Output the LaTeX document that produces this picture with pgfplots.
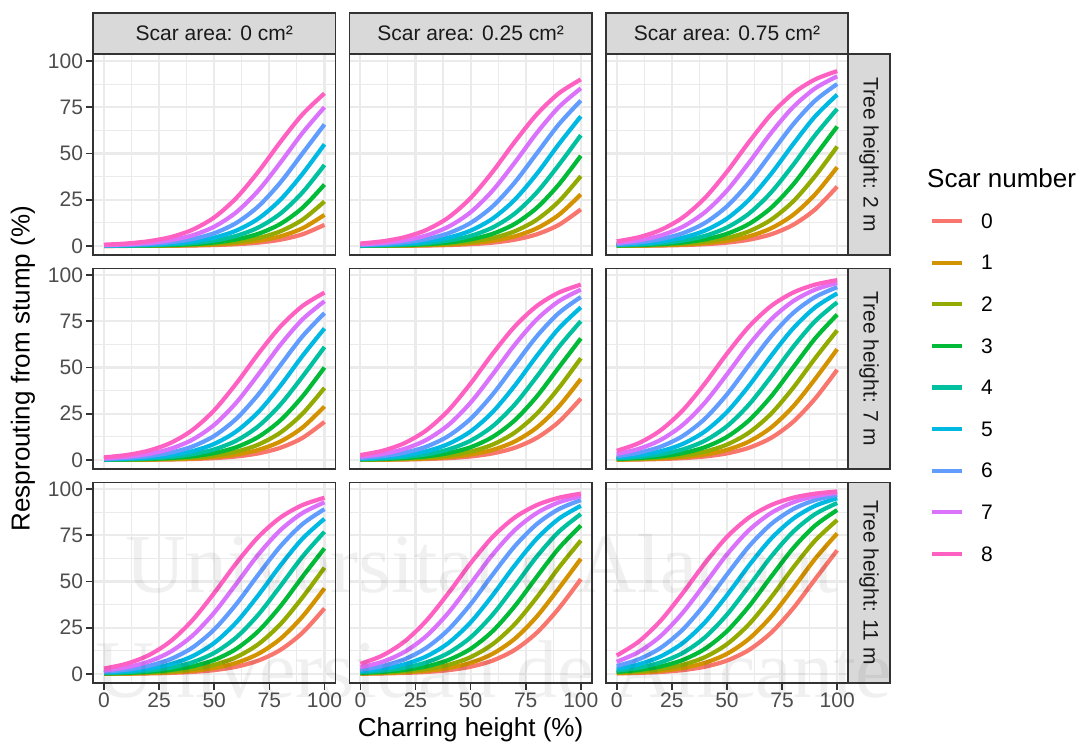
\documentclass[border=0pt]{standalone}
\usepackage{fontspec}
\setmainfont{Liberation Sans}
\newfontfamily\wmfont{Liberation Serif}
\usepackage{pgfplots}
\pgfplotsset{compat=1.18}
\definecolor{gr10}{HTML}{1A1A1A}
\definecolor{gr20}{HTML}{333333}
\definecolor{gr30}{HTML}{4D4D4D}
\definecolor{gr85}{HTML}{D9D9D9}
\definecolor{gr92}{HTML}{EBEBEB}
\definecolor{h0}{HTML}{F8766D}
\definecolor{h1}{HTML}{D39200}
\definecolor{h2}{HTML}{93AA00}
\definecolor{h3}{HTML}{00BA38}
\definecolor{h4}{HTML}{00C19F}
\definecolor{h5}{HTML}{00B9E3}
\definecolor{h6}{HTML}{619CFF}
\definecolor{h7}{HTML}{DB72FB}
\definecolor{h8}{HTML}{FF61C3}
\pgfplotsset{
  panel/.style={scale only axis, width=242.5pt, height=200.8pt,
    xmin=-5, xmax=105, ymin=-4.93, ymax=103.6,
    xtick={0,25,50,75,100}, ytick={0,25,50,75,100},
    minor xtick={12.5,37.5,62.5,87.5}, minor ytick={12.5,37.5,62.5,87.5},
    xtick pos=bottom, ytick pos=left,
    grid=both,
    major grid style={line width=2.2pt, draw=gr92},
    minor grid style={line width=1.1pt, draw=gr92},
    axis line style={line width=1.6pt, draw=gr20},
    tick align=outside, major tick length=6.5pt, minor tick length=0pt,
    every tick/.style={line width=1.6pt, draw=gr20},
    ticklabel style={font=\fontsize{21}{21}\selectfont, text=gr30},
    /pgf/number format/assume math mode=true,
    xticklabels={}, yticklabels={},
    xtick style={draw=none}, ytick style={draw=none}},
  leftcol/.style={yticklabels={0,25,50,75,100}, ytick style={draw=gr20}},
  bottomrow/.style={xticklabels={0,25,50,75,100}, xtick style={draw=gr20}},
  s0/.style={h0, line width=4.2pt, smooth, no markers},
  s1/.style={h1, line width=4.2pt, smooth, no markers},
  s2/.style={h2, line width=4.2pt, smooth, no markers},
  s3/.style={h3, line width=4.2pt, smooth, no markers},
  s4/.style={h4, line width=4.2pt, smooth, no markers},
  s5/.style={h5, line width=4.2pt, smooth, no markers},
  s6/.style={h6, line width=4.2pt, smooth, no markers},
  s7/.style={h7, line width=4.2pt, smooth, no markers},
  s8/.style={h8, line width=4.2pt, smooth, no markers},
}
\begin{document}
\begin{tikzpicture}
\path[use as bounding box] (0pt,0pt) rectangle (1087pt,-746pt);
% ---------- Row 1: tree height 2 m ----------
\begin{axis}[panel, leftcol, at={(93pt,-54.3pt)}, anchor=north west]
\addplot[s0] coordinates {(0,0.02)(10,0.04)(20,0.07)(30,0.14)(40,0.26)(50,0.50)(60,0.95)(70,1.80)(80,3.39)(90,6.30)(100,11.41)};
\addplot[s1] coordinates {(0,0.03)(10,0.06)(20,0.11)(30,0.21)(40,0.41)(50,0.78)(60,1.48)(70,2.79)(80,5.22)(90,9.54)(100,16.80)};
\addplot[s2] coordinates {(0,0.05)(10,0.09)(20,0.18)(30,0.33)(40,0.64)(50,1.21)(60,2.30)(70,4.31)(80,7.94)(90,14.19)(100,24.05)};
\addplot[s3] coordinates {(0,0.08)(10,0.14)(20,0.27)(30,0.52)(40,1.00)(50,1.89)(60,3.56)(70,6.60)(80,11.92)(90,20.59)(100,33.18)};
\addplot[s4] coordinates {(0,0.12)(10,0.22)(20,0.43)(30,0.82)(40,1.55)(50,2.93)(60,5.47)(70,9.98)(80,17.51)(90,28.91)(100,43.78)};
\addplot[s5] coordinates {(0,0.18)(10,0.35)(20,0.67)(30,1.27)(40,2.41)(50,4.52)(60,8.32)(70,14.80)(80,24.97)(90,38.94)(100,54.98)};
\addplot[s6] coordinates {(0,0.29)(10,0.55)(20,1.05)(30,1.98)(40,3.73)(50,6.91)(60,12.46)(70,21.42)(80,34.30)(90,50.00)(100,65.70)};
\addplot[s7] coordinates {(0,0.45)(10,0.86)(20,1.63)(30,3.08)(40,5.73)(50,10.43)(60,18.24)(70,29.94)(80,45.02)(90,61.06)(100,75.03)};
\addplot[s8] coordinates {(0,0.70)(10,1.34)(20,2.53)(30,4.74)(40,8.71)(50,15.45)(60,25.92)(70,40.13)(80,56.22)(90,71.09)(100,82.49)};
\end{axis}
\begin{axis}[panel, at={(349.35pt,-54.3pt)}, anchor=north west]
\addplot[s0] coordinates {(0,0.04)(10,0.07)(20,0.14)(30,0.26)(40,0.50)(50,0.95)(60,1.80)(70,3.39)(80,6.30)(90,11.41)(100,19.78)};
\addplot[s1] coordinates {(0,0.06)(10,0.11)(20,0.21)(30,0.41)(40,0.78)(50,1.48)(60,2.79)(70,5.22)(80,9.54)(90,16.80)(100,27.89)};
\addplot[s2] coordinates {(0,0.09)(10,0.18)(20,0.33)(30,0.64)(40,1.21)(50,2.30)(60,4.31)(70,7.94)(80,14.19)(90,24.05)(100,37.75)};
\addplot[s3] coordinates {(0,0.14)(10,0.27)(20,0.52)(30,1.00)(40,1.89)(50,3.56)(60,6.60)(70,11.92)(80,20.59)(90,33.18)(100,48.75)};
\addplot[s4] coordinates {(0,0.22)(10,0.43)(20,0.82)(30,1.55)(40,2.93)(50,5.47)(60,9.98)(70,17.51)(80,28.91)(90,43.78)(100,59.87)};
\addplot[s5] coordinates {(0,0.35)(10,0.67)(20,1.27)(30,2.41)(40,4.52)(50,8.32)(60,14.80)(70,24.97)(80,38.94)(90,54.98)(100,70.06)};
\addplot[s6] coordinates {(0,0.55)(10,1.05)(20,1.98)(30,3.73)(40,6.91)(50,12.46)(60,21.42)(70,34.30)(80,50.00)(90,65.70)(100,78.58)};
\addplot[s7] coordinates {(0,0.86)(10,1.63)(20,3.08)(30,5.73)(40,10.43)(50,18.24)(60,29.94)(70,45.02)(80,61.06)(90,75.03)(100,85.20)};
\addplot[s8] coordinates {(0,1.34)(10,2.53)(20,4.74)(30,8.71)(40,15.45)(50,25.92)(60,40.13)(70,56.22)(80,71.09)(90,82.49)(100,90.03)};
\end{axis}
\begin{axis}[panel, at={(605.7pt,-54.3pt)}, anchor=north west]
\addplot[s0] coordinates {(0,0.07)(10,0.14)(20,0.26)(30,0.50)(40,0.95)(50,1.80)(60,3.39)(70,6.30)(80,11.41)(90,19.78)(100,32.08)};
\addplot[s1] coordinates {(0,0.11)(10,0.21)(20,0.41)(30,0.78)(40,1.48)(50,2.79)(60,5.22)(70,9.54)(80,16.80)(90,27.89)(100,42.56)};
\addplot[s2] coordinates {(0,0.18)(10,0.33)(20,0.64)(30,1.21)(40,2.30)(50,4.31)(60,7.94)(70,14.19)(80,24.05)(90,37.75)(100,53.74)};
\addplot[s3] coordinates {(0,0.27)(10,0.52)(20,1.00)(30,1.89)(40,3.56)(50,6.60)(60,11.92)(70,20.59)(80,33.18)(90,48.75)(100,64.57)};
\addplot[s4] coordinates {(0,0.43)(10,0.82)(20,1.55)(30,2.93)(40,5.47)(50,9.98)(60,17.51)(70,28.91)(80,43.78)(90,59.87)(100,74.08)};
\addplot[s5] coordinates {(0,0.67)(10,1.27)(20,2.41)(30,4.52)(40,8.32)(50,14.80)(60,24.97)(70,38.94)(80,54.98)(90,70.06)(100,81.76)};
\addplot[s6] coordinates {(0,1.05)(10,1.98)(20,3.73)(30,6.91)(40,12.46)(50,21.42)(60,34.30)(70,50.00)(80,65.70)(90,78.58)(100,87.54)};
\addplot[s7] coordinates {(0,1.63)(10,3.08)(20,5.73)(30,10.43)(40,18.24)(50,29.94)(60,45.02)(70,61.06)(80,75.03)(90,85.20)(100,91.68)};
\addplot[s8] coordinates {(0,2.53)(10,4.74)(20,8.71)(30,15.45)(40,25.92)(50,40.13)(60,56.22)(70,71.09)(80,82.49)(90,90.03)(100,94.53)};
\end{axis}
% ---------- Row 2: tree height 7 m ----------
\begin{axis}[panel, leftcol, at={(93pt,-268.3pt)}, anchor=north west]
\addplot[s0] coordinates {(0,0.04)(10,0.08)(20,0.14)(30,0.27)(40,0.52)(50,1.00)(60,1.89)(70,3.56)(80,6.60)(90,11.92)(100,20.59)};
\addplot[s1] coordinates {(0,0.06)(10,0.12)(20,0.22)(30,0.43)(40,0.82)(50,1.55)(60,2.93)(70,5.47)(80,9.98)(90,17.51)(100,28.91)};
\addplot[s2] coordinates {(0,0.10)(10,0.18)(20,0.35)(30,0.67)(40,1.27)(50,2.41)(60,4.52)(70,8.32)(80,14.80)(90,24.97)(100,38.94)};
\addplot[s3] coordinates {(0,0.15)(10,0.29)(20,0.55)(30,1.05)(40,1.98)(50,3.73)(60,6.91)(70,12.46)(80,21.42)(90,34.30)(100,50.00)};
\addplot[s4] coordinates {(0,0.24)(10,0.45)(20,0.86)(30,1.63)(40,3.08)(50,5.73)(60,10.43)(70,18.24)(80,29.94)(90,45.02)(100,61.06)};
\addplot[s5] coordinates {(0,0.37)(10,0.70)(20,1.34)(30,2.53)(40,4.74)(50,8.71)(60,15.45)(70,25.92)(80,40.13)(90,56.22)(100,71.09)};
\addplot[s6] coordinates {(0,0.58)(10,1.10)(20,2.08)(30,3.92)(40,7.24)(50,13.01)(60,22.27)(70,35.43)(80,51.25)(90,66.82)(100,79.41)};
\addplot[s7] coordinates {(0,0.90)(10,1.71)(20,3.23)(30,6.01)(40,10.91)(50,19.00)(60,31.00)(70,46.26)(80,62.25)(90,75.95)(100,85.81)};
\addplot[s8] coordinates {(0,1.41)(10,2.66)(20,4.97)(30,9.11)(40,16.11)(50,26.89)(60,41.34)(70,57.44)(80,72.11)(90,83.20)(100,90.47)};
\end{axis}
\begin{axis}[panel, at={(349.35pt,-268.3pt)}, anchor=north west]
\addplot[s0] coordinates {(0,0.08)(10,0.14)(20,0.27)(30,0.52)(40,1.00)(50,1.89)(60,3.56)(70,6.60)(80,11.92)(90,20.59)(100,33.18)};
\addplot[s1] coordinates {(0,0.12)(10,0.22)(20,0.43)(30,0.82)(40,1.55)(50,2.93)(60,5.47)(70,9.98)(80,17.51)(90,28.91)(100,43.78)};
\addplot[s2] coordinates {(0,0.18)(10,0.35)(20,0.67)(30,1.27)(40,2.41)(50,4.52)(60,8.32)(70,14.80)(80,24.97)(90,38.94)(100,54.98)};
\addplot[s3] coordinates {(0,0.29)(10,0.55)(20,1.05)(30,1.98)(40,3.73)(50,6.91)(60,12.46)(70,21.42)(80,34.30)(90,50.00)(100,65.70)};
\addplot[s4] coordinates {(0,0.45)(10,0.86)(20,1.63)(30,3.08)(40,5.73)(50,10.43)(60,18.24)(70,29.94)(80,45.02)(90,61.06)(100,75.03)};
\addplot[s5] coordinates {(0,0.70)(10,1.34)(20,2.53)(30,4.74)(40,8.71)(50,15.45)(60,25.92)(70,40.13)(80,56.22)(90,71.09)(100,82.49)};
\addplot[s6] coordinates {(0,1.10)(10,2.08)(20,3.92)(30,7.24)(40,13.01)(50,22.27)(60,35.43)(70,51.25)(80,66.82)(90,79.41)(100,88.08)};
\addplot[s7] coordinates {(0,1.71)(10,3.23)(20,6.01)(30,10.91)(40,19.00)(50,31.00)(60,46.26)(70,62.25)(80,75.95)(90,85.81)(100,92.06)};
\addplot[s8] coordinates {(0,2.66)(10,4.97)(20,9.11)(30,16.11)(40,26.89)(50,41.34)(60,57.44)(70,72.11)(80,83.20)(90,90.47)(100,94.79)};
\end{axis}
\begin{axis}[panel, at={(605.7pt,-268.3pt)}, anchor=north west]
\addplot[s0] coordinates {(0,0.14)(10,0.27)(20,0.52)(30,1.00)(40,1.89)(50,3.56)(60,6.60)(70,11.92)(80,20.59)(90,33.18)(100,48.75)};
\addplot[s1] coordinates {(0,0.22)(10,0.43)(20,0.82)(30,1.55)(40,2.93)(50,5.47)(60,9.98)(70,17.51)(80,28.91)(90,43.78)(100,59.87)};
\addplot[s2] coordinates {(0,0.35)(10,0.67)(20,1.27)(30,2.41)(40,4.52)(50,8.32)(60,14.80)(70,24.97)(80,38.94)(90,54.98)(100,70.06)};
\addplot[s3] coordinates {(0,0.55)(10,1.05)(20,1.98)(30,3.73)(40,6.91)(50,12.46)(60,21.42)(70,34.30)(80,50.00)(90,65.70)(100,78.58)};
\addplot[s4] coordinates {(0,0.86)(10,1.63)(20,3.08)(30,5.73)(40,10.43)(50,18.24)(60,29.94)(70,45.02)(80,61.06)(90,75.03)(100,85.20)};
\addplot[s5] coordinates {(0,1.34)(10,2.53)(20,4.74)(30,8.71)(40,15.45)(50,25.92)(60,40.13)(70,56.22)(80,71.09)(90,82.49)(100,90.03)};
\addplot[s6] coordinates {(0,2.08)(10,3.92)(20,7.24)(30,13.01)(40,22.27)(50,35.43)(60,51.25)(70,66.82)(80,79.41)(90,88.08)(100,93.40)};
\addplot[s7] coordinates {(0,3.23)(10,6.01)(20,10.91)(30,19.00)(40,31.00)(50,46.26)(60,62.25)(70,75.95)(80,85.81)(90,92.06)(100,95.69)};
\addplot[s8] coordinates {(0,4.97)(10,9.11)(20,16.11)(30,26.89)(40,41.34)(50,57.44)(60,72.11)(70,83.20)(80,90.47)(90,94.79)(100,97.21)};
\end{axis}
% ---------- Row 3: tree height 11 m ----------
\begin{axis}[panel, leftcol, bottomrow, at={(93pt,-482.3pt)}, anchor=north west]
\addplot[s0] coordinates {(0,0.08)(10,0.16)(20,0.30)(30,0.58)(40,1.10)(50,2.08)(60,3.92)(70,7.24)(80,13.01)(90,22.27)(100,35.43)};
\addplot[s1] coordinates {(0,0.13)(10,0.25)(20,0.47)(30,0.90)(40,1.71)(50,3.23)(60,6.01)(70,10.91)(80,19.00)(90,31.00)(100,46.26)};
\addplot[s2] coordinates {(0,0.20)(10,0.39)(20,0.74)(30,1.41)(40,2.66)(50,4.97)(60,9.11)(70,16.11)(80,26.89)(90,41.34)(100,57.44)};
\addplot[s3] coordinates {(0,0.32)(10,0.61)(20,1.15)(30,2.19)(40,4.11)(50,7.59)(60,13.59)(70,23.15)(80,36.59)(90,52.50)(100,67.92)};
\addplot[s4] coordinates {(0,0.50)(10,0.95)(20,1.80)(30,3.39)(40,6.30)(50,11.41)(60,19.78)(70,32.08)(80,47.50)(90,63.41)(100,76.85)};
\addplot[s5] coordinates {(0,0.78)(10,1.48)(20,2.79)(30,5.22)(40,9.54)(50,16.80)(60,27.89)(70,42.56)(80,58.66)(90,73.11)(100,83.89)};
\addplot[s6] coordinates {(0,1.21)(10,2.30)(20,4.31)(30,7.94)(40,14.19)(50,24.05)(60,37.75)(70,53.74)(80,69.00)(90,81.00)(100,89.09)};
\addplot[s7] coordinates {(0,1.89)(10,3.56)(20,6.60)(30,11.92)(40,20.59)(50,33.18)(60,48.75)(70,64.57)(80,77.73)(90,86.99)(100,92.76)};
\addplot[s8] coordinates {(0,2.93)(10,5.47)(20,9.98)(30,17.51)(40,28.91)(50,43.78)(60,59.87)(70,74.08)(80,84.55)(90,91.29)(100,95.26)};
\end{axis}
\begin{axis}[panel, bottomrow, at={(349.35pt,-482.3pt)}, anchor=north west]
\addplot[s0] coordinates {(0,0.16)(10,0.30)(20,0.58)(30,1.10)(40,2.08)(50,3.92)(60,7.24)(70,13.01)(80,22.27)(90,35.43)(100,51.25)};
\addplot[s1] coordinates {(0,0.25)(10,0.47)(20,0.90)(30,1.71)(40,3.23)(50,6.01)(60,10.91)(70,19.00)(80,31.00)(90,46.26)(100,62.25)};
\addplot[s2] coordinates {(0,0.39)(10,0.74)(20,1.41)(30,2.66)(40,4.97)(50,9.11)(60,16.11)(70,26.89)(80,41.34)(90,57.44)(100,72.11)};
\addplot[s3] coordinates {(0,0.61)(10,1.15)(20,2.19)(30,4.11)(40,7.59)(50,13.59)(60,23.15)(70,36.59)(80,52.50)(90,67.92)(100,80.22)};
\addplot[s4] coordinates {(0,0.95)(10,1.80)(20,3.39)(30,6.30)(40,11.41)(50,19.78)(60,32.08)(70,47.50)(80,63.41)(90,76.85)(100,86.41)};
\addplot[s5] coordinates {(0,1.48)(10,2.79)(20,5.22)(30,9.54)(40,16.80)(50,27.89)(60,42.56)(70,58.66)(80,73.11)(90,83.89)(100,90.89)};
\addplot[s6] coordinates {(0,2.30)(10,4.31)(20,7.94)(30,14.19)(40,24.05)(50,37.75)(60,53.74)(70,69.00)(80,81.00)(90,89.09)(100,93.99)};
\addplot[s7] coordinates {(0,3.56)(10,6.60)(20,11.92)(30,20.59)(40,33.18)(50,48.75)(60,64.57)(70,77.73)(80,86.99)(90,92.76)(100,96.08)};
\addplot[s8] coordinates {(0,5.47)(10,9.98)(20,17.51)(30,28.91)(40,43.78)(50,59.87)(60,74.08)(70,84.55)(80,91.29)(90,95.26)(100,97.47)};
\end{axis}
\begin{axis}[panel, bottomrow, at={(605.7pt,-482.3pt)}, anchor=north west]
\addplot[s0] coordinates {(0,0.30)(10,0.58)(20,1.10)(30,2.08)(40,3.92)(50,7.24)(60,13.01)(70,22.27)(80,35.43)(90,51.25)(100,66.82)};
\addplot[s1] coordinates {(0,0.47)(10,0.90)(20,1.71)(30,3.23)(40,6.01)(50,10.91)(60,19.00)(70,31.00)(80,46.26)(90,62.25)(100,75.95)};
\addplot[s2] coordinates {(0,0.74)(10,1.41)(20,2.66)(30,4.97)(40,9.11)(50,16.11)(60,26.89)(70,41.34)(80,57.44)(90,72.11)(100,83.20)};
\addplot[s3] coordinates {(0,1.15)(10,2.19)(20,4.11)(30,7.59)(40,13.59)(50,23.15)(60,36.59)(70,52.50)(80,67.92)(90,80.22)(100,88.59)};
\addplot[s4] coordinates {(0,1.80)(10,3.39)(20,6.30)(30,11.41)(40,19.78)(50,32.08)(60,47.50)(70,63.41)(80,76.85)(90,86.41)(100,92.41)};
\addplot[s5] coordinates {(0,2.79)(10,5.22)(20,9.54)(30,16.80)(40,27.89)(50,42.56)(60,58.66)(70,73.11)(80,83.89)(90,90.89)(100,95.03)};
\addplot[s6] coordinates {(0,4.31)(10,7.94)(20,14.19)(30,24.05)(40,37.75)(50,53.74)(60,69.00)(70,81.00)(80,89.09)(90,93.99)(100,96.77)};
\addplot[s7] coordinates {(0,6.60)(10,11.92)(20,20.59)(30,33.18)(40,48.75)(50,64.57)(60,77.73)(70,86.99)(80,92.76)(90,96.08)(100,97.92)};
\addplot[s8] coordinates {(0,9.98)(10,17.51)(20,28.91)(30,43.78)(40,59.87)(50,74.08)(60,84.55)(70,91.29)(80,95.26)(90,97.47)(100,98.66)};
\end{axis}
% ---------- strips ----------
\tikzset{strip/.style={fill=gr85, draw=gr20, line width=1.6pt}}
\foreach \lx/\lab in {93/{0 cm²}, 349.35/{0.25 cm²}, 605.7/{0.75 cm²}} {
  \pgfmathsetmacro{\rx}{\lx+242.5}
  \pgfmathsetmacro{\cx}{\lx+121.25}
  \draw[strip] (\lx pt,-13pt) rectangle (\rx pt,-54.3pt);
  \node[font=\fontsize{21}{21}\selectfont, text=gr10] at (\cx pt,-33.6pt) {Scar area: \lab};
}
\foreach \ty/\lab in {54.3/{2 m}, 268.3/{7 m}, 482.3/{11 m}} {
  \pgfmathsetmacro{\by}{\ty+200.8}
  \pgfmathsetmacro{\cy}{\ty+100.4}
  \draw[strip] (848.2pt,-\ty pt) rectangle (890pt,-\by pt);
  \node[rotate=-90, font=\fontsize{21}{21}\selectfont, text=gr10] at (869.1pt,-\cy pt) {Tree height: \lab};
}
% ---------- axis titles ----------
\node[rotate=90, font=\fontsize{26}{26}\selectfont] at (23pt,-368.7pt) {Resprouting from stump (\%)};
\node[font=\fontsize{26}{26}\selectfont] at (470.6pt,-730pt) {Charring height (\%)};
% ---------- legend ----------
\node[anchor=west, font=\fontsize{26}{26}\selectfont, inner sep=0pt] at (927pt,-178pt) {Scar number};
\foreach \k in {0,...,8} {
  \pgfmathsetmacro{\yy}{221+41.6*\k}
  \draw[h\k, line width=4.2pt] (932pt,-\yy pt) -- (962pt,-\yy pt);
  \node[anchor=west, font=\fontsize{21}{21}\selectfont, inner sep=0pt] at (981pt,-\yy pt) {\k};
}
% ---------- watermark ----------
\node[anchor=base west, font=\wmfont\fontsize{84}{84}\selectfont, text=black, opacity=0.06, inner sep=0pt] at (125pt,-592pt) {Universitat d'Alacant};
\node[anchor=base west, font=\wmfont\fontsize{82}{82}\selectfont, text=black, opacity=0.06, inner sep=0pt] at (95pt,-697pt) {Universidad de Alicante};
\end{tikzpicture}
\end{document}
